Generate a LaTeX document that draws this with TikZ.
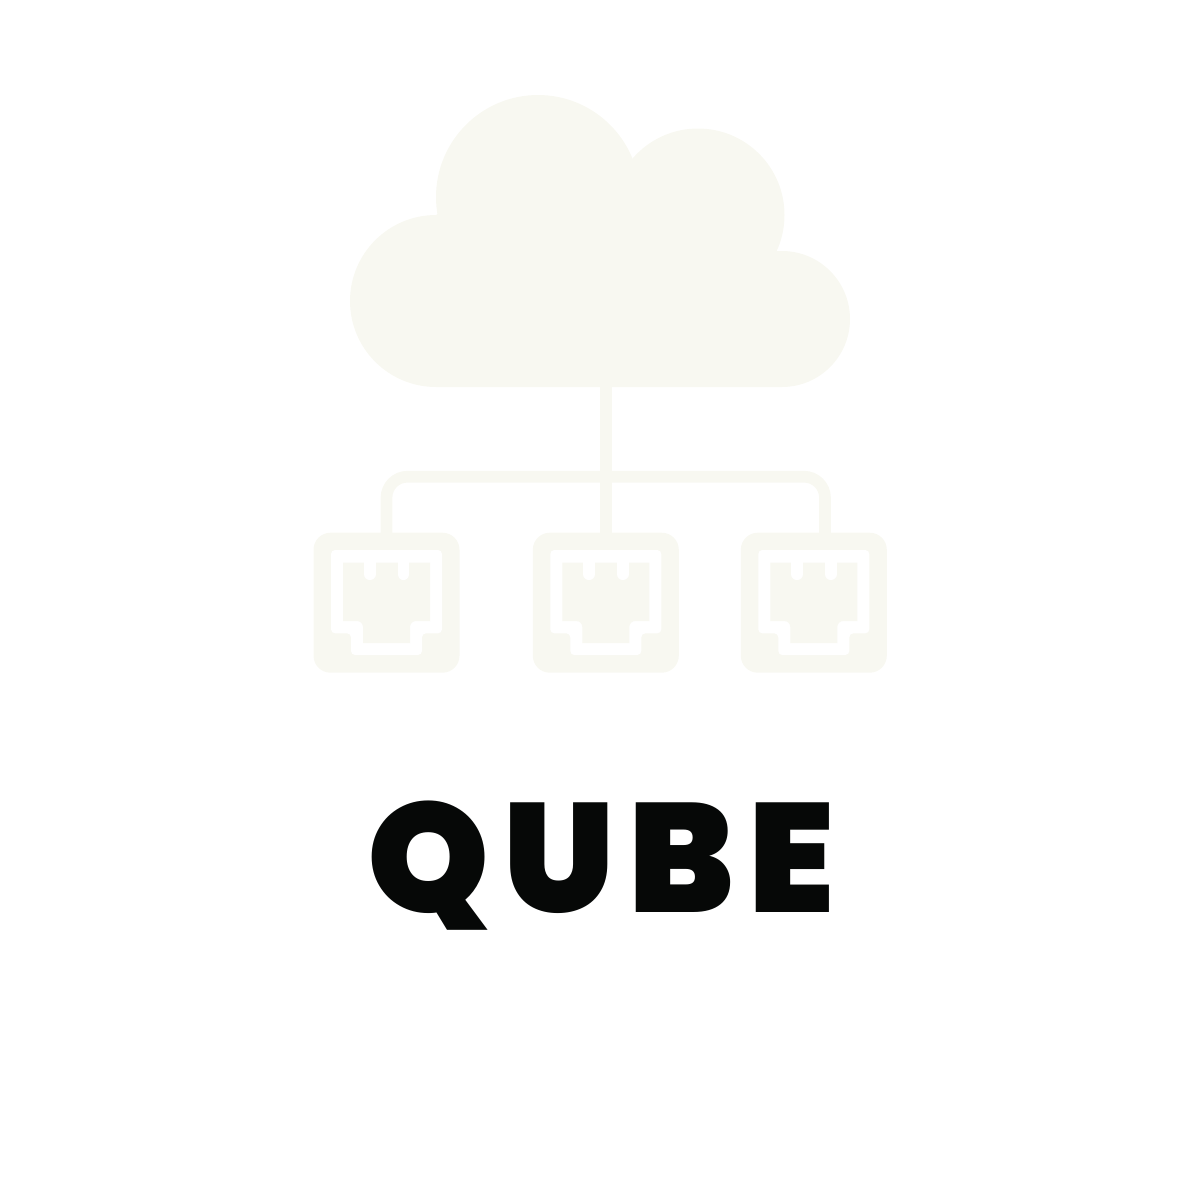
\documentclass[tikz,border=0pt]{standalone}
\usepackage{fontspec}
\newfontfamily\qubefont[LetterSpace=8.9]{Poppins Black}
\usetikzlibrary{calc}
\definecolor{cream}{HTML}{F8F8F1}
\definecolor{ink}{HTML}{060807}
\tikzset{
  x=1pt,y=-1pt,
  jackbox/.style={fill=cream,rounded corners=17pt,minimum width=146pt,minimum height=140pt,inner sep=0pt,anchor=center},
  wire/.style={draw=cream,line width=11.7pt},
  socket/.pic={
    \fill[white,rounded corners=4pt] (-55.5,-52.7) -- (55.5,-52.7) -- (55.5,30.6) -- (35.5,30.6) -- (35.5,52.3) -- (-35.5,52.3) -- (-35.5,30.6) -- (-55.5,30.6) -- cycle;
    \fill[cream] (-43.5,-40.2) -- (43.5,-40.2) -- (43.5,18.3) [rounded corners=6pt] -- (23.5,18.3) [sharp corners] -- (23.5,40.3) -- (-23.5,40.3) [rounded corners=6pt] -- (-23.5,18.3) [sharp corners] -- (-43.5,18.3) -- cycle;
    \draw[white,line width=11.7pt,line cap=round] (-16.7,-42) -- (-16.7,-28.5);
    \draw[white,line width=11.7pt,line cap=round] (16.9,-42) -- (16.9,-28.5);
  }
}
\begin{document}
\begin{tikzpicture}
\useasboundingbox (0,0) rectangle (1200,1200);
% cloud
\fill[cream] (538,197) circle[radius=102pt];
\fill[cream] (698,215) circle[radius=86.5pt];
\fill[cream] (436,301) circle[radius=86pt];
\fill[cream] (782,319) circle[radius=68pt];
\fill[cream] (436,215) -- (538,150) -- (640,170) -- (770,251) -- (782,251) -- (782,387) -- (436,387) -- cycle;
\coordinate (cloudbase) at (605.8,380);
\coordinate (hub) at (605.8,476.7);
% jack boxes
\node[jackbox] (boxA) at (386.5,602.7) {};
\node[jackbox] (boxB) at (605.8,602.7) {};
\node[jackbox] (boxC) at (813.8,602.7) {};
\draw[wire] (cloudbase) -- ([yshift=-3pt]boxB.north);
\draw[wire,rounded corners=21pt] ([yshift=-3pt]boxA.north) |- (hub) -| ([xshift=11.2pt,yshift=-3pt]boxC.north);
\pic at (boxA.center) {socket};
\pic at (boxB.center) {socket};
\pic at (boxC.center) {socket};
\node[text=ink,font=\qubefont\fontsize{155}{155}\selectfont,anchor=base,inner sep=0pt] (title) at (601,912) {QUBE};
\end{tikzpicture}
\end{document}
